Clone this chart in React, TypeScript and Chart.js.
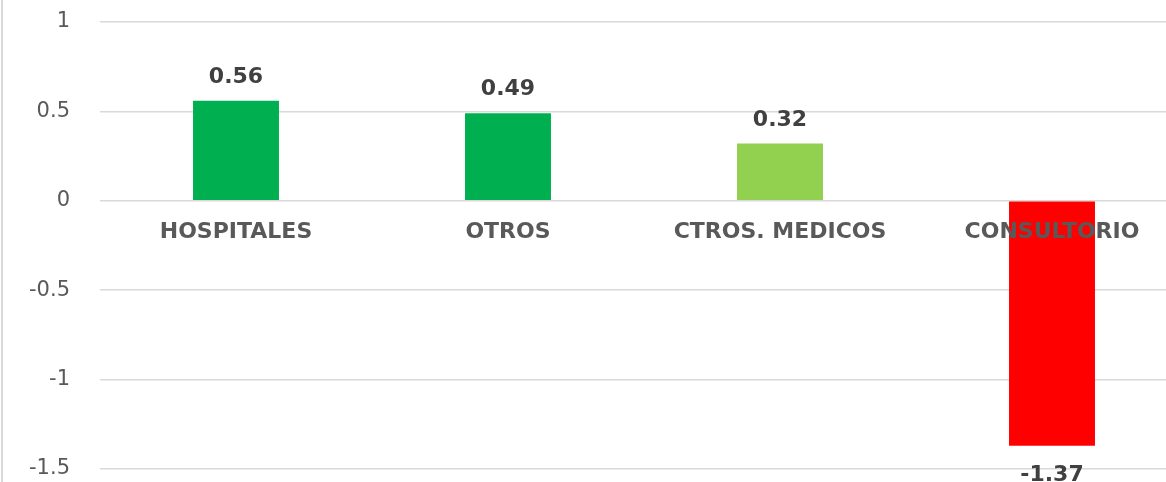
import React, { useEffect, useRef } from "react";
import { Chart, registerables } from "chart.js";

Chart.register(...registerables);

const categories = ["HOSPITALES", "OTROS", "CTROS. MEDICOS", "CONSULTORIO"];
const values = [0.56, 0.49, 0.32, -1.37];
const valueLabels = ["0.56", "0.49", "0.32", "-1.37"];
const barColors = ["#00B050", "#00B050", "#92D050", "#FF0000"];
const yTicks = [-1.5, -1, -0.5, 0, 0.5, 1];

const FONT = "'DejaVu Sans', Verdana, sans-serif";

const valueLabelPlugin = {
  id: "valueLabels",
  afterDatasetsDraw(chart: any) {
    const ctx = chart.ctx;
    const meta = chart.getDatasetMeta(0);
    ctx.save();
    ctx.font = `bold 22px ${FONT}`;
    ctx.fillStyle = "#404040";
    ctx.textAlign = "center";
    ctx.textBaseline = "alphabetic";
    meta.data.forEach((bar: any, i: number) => {
      const v = values[i];
      if (v >= 0) {
        ctx.fillText(valueLabels[i], bar.x, bar.y - 18);
      } else {
        ctx.fillText(valueLabels[i], bar.x, bar.y + 35);
      }
    });
    ctx.restore();
  },
};

export default function App() {
  const ref = useRef<HTMLCanvasElement>(null);
  useEffect(() => {
    if (!ref.current) return;
    const chart = new Chart(ref.current, {
      type: "bar",
      data: {
        labels: categories,
        datasets: [
          {
            data: values,
            backgroundColor: barColors,
            borderWidth: 0,
            barPercentage: 0.316,
            categoryPercentage: 1,
          },
        ],
      },
      options: {
        responsive: false,
        animation: false,
        layout: { padding: { top: 22, bottom: 31, right: 12, left: 0 } },
        plugins: { legend: { display: false }, tooltip: { enabled: false } },
        scales: {
          x: {
            position: { y: 0 } as any,
            afterFit: (s: any) => {
              s.height = 0;
            },
            grid: { display: false, drawTicks: false },
            border: { display: false },
            ticks: {
              z: 1,
              color: "#595959",
              font: { family: FONT, size: 22, weight: "bold" },
              padding: 18,
              maxRotation: 0,
              autoSkip: false,
            },
          },
          y: {
            min: -1.5,
            max: 1,
            afterFit: (s: any) => {
              s.width = 100;
              s.paddingTop = 0;
              s.paddingBottom = 0;
            },
            afterBuildTicks: (s: any) => {
              s.ticks = yTicks.map((v) => ({ value: v }));
            },
            grid: { color: "#D9D9D9", lineWidth: 1.5, drawTicks: false },
            border: { display: false },
            ticks: {
              color: "#595959",
              font: { family: FONT, size: 21 },
              padding: 30,
              callback: (v: any) => String(v),
            },
          },
        },
      },
      plugins: [valueLabelPlugin],
    });
    return () => chart.destroy();
  }, []);
  return (
    <div
      style={{
        position: "fixed",
        left: 0,
        top: 0,
        width: 1166,
        height: 482,
        overflow: "hidden",
        background: "#fff",
      }}
    >
      <canvas ref={ref} width={1200} height={500} style={{ display: "block" }} />
      <div
        style={{
          position: "absolute",
          left: 1,
          top: 0,
          width: 2,
          height: 482,
          background: "#D9D9D9",
        }}
      />
    </div>
  );
}
